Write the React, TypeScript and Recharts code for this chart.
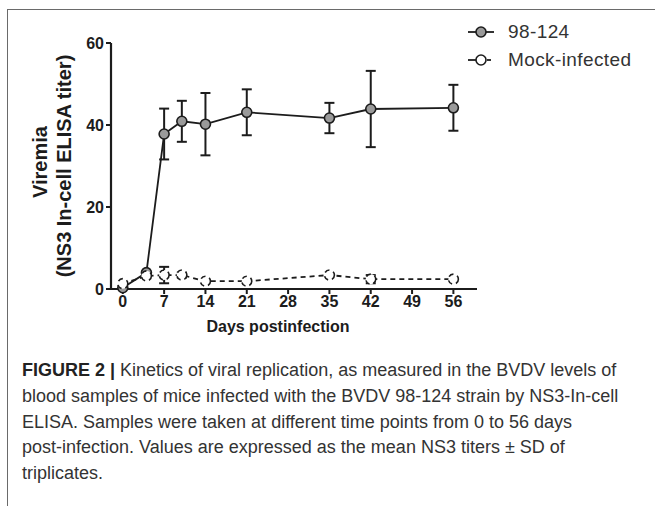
import React from "react";
import {
  ErrorBar,
  Label,
  Legend,
  Line,
  LineChart,
  XAxis,
  YAxis,
} from "recharts";

const days = [0, 4, 7, 10, 14, 21, 35, 42, 56];
const strainMean = [0.3, 4.0, 37.8, 40.9, 40.2, 43.1, 41.7, 43.9, 44.2];
const strainSd = [0, 0, 6.2, 5.0, 7.6, 5.6, 3.7, 9.3, 5.6];
const mockMean = [1.3, 3.2, 3.4, 3.4, 1.9, 1.9, 3.4, 2.4, 2.4];
const mockSd = [0, 0, 2.0, 0.6, 0, 0, 0, 1.0, 0];

const xTicks = [0, 7, 14, 21, 28, 35, 42, 49, 56];
const yTicks = [0, 20, 40, 60];
const seriesNames = ["98-124", "Mock-infected"];

const rows = days.map((day, i) => ({
  day,
  strain: strainMean[i],
  strainErr: strainSd[i],
  mock: mockMean[i],
  mockErr: mockSd[i],
}));

const INK = "#1c1c1c";
const SANS = "'Liberation Sans', Arial, sans-serif";
const tickStyle = {
  fontFamily: SANS,
  fontWeight: 700,
  fontSize: 16,
  fill: INK,
};

function LegendBox() {
  return (
    <div style={{ fontFamily: SANS, fontSize: 19, color: "#333" }}>
      {seriesNames.map((name, i) => (
        <div key={name} style={{ display: "flex", alignItems: "center", height: 28 }}>
          <svg width={34} height={16} style={{ marginRight: 8 }}>
            {i === 0 ? (
              <line x1={2} y1={8} x2={28} y2={8} stroke={INK} strokeWidth={1.8} />
            ) : (
              <>
                <line x1={2} y1={8} x2={10} y2={8} stroke={INK} strokeWidth={1.8} />
                <line x1={21} y1={8} x2={25} y2={8} stroke={INK} strokeWidth={1.8} />
              </>
            )}
            <circle
              cx={15}
              cy={8}
              r={5}
              fill={i === 0 ? "#9a9a9a" : "#fff"}
              stroke={INK}
              strokeWidth={1.6}
            />
          </svg>
          <span style={{ letterSpacing: 0.4 }}>{name}</span>
        </div>
      ))}
    </div>
  );
}

function YTitle(props: any) {
  const vb = props.viewBox ?? { x: 0, y: 43, width: 111, height: 246 };
  const cy = vb.y + vb.height / 2;
  const font = { fontFamily: SANS, fontWeight: 700, fontSize: 20, fill: INK };
  return (
    <g>
      <text x={40} y={cy - 4} transform={`rotate(-90 40 ${cy - 4})`} textAnchor="middle" dominantBaseline="central" {...font}>
        Viremia
      </text>
      <text x={64} y={cy} transform={`rotate(-90 64 ${cy})`} textAnchor="middle" dominantBaseline="central" {...font}>
        (NS3 In-cell ELISA titer)
      </text>
    </g>
  );
}

export default function App() {
  return (
    <div
      style={{
        position: "fixed",
        inset: 0,
        width: 655,
        height: 506,
        overflow: "hidden",
        background: "#fff",
      }}
    >
      <div
        style={{
          position: "absolute",
          left: 7,
          top: 9,
          width: 700,
          height: 600,
          borderLeft: "1.5px solid #6a6a6a",
          borderTop: "1.5px solid #6a6a6a",
        }}
      />
      <div style={{ position: "absolute", left: 0, top: 0 }}>
        <LineChart
          width={655}
          height={340}
          data={rows}
          margin={{ top: 43, right: 178, bottom: 21, left: 0 }}
        >
          <XAxis
            dataKey="day"
            type="number"
            domain={[-2, 60]}
            ticks={xTicks}
            height={30}
            tick={tickStyle}
            tickSize={5}
            tickLine={{ stroke: INK, strokeWidth: 2 }}
            axisLine={{ stroke: INK, strokeWidth: 2.2 }}
          >
            <Label
              value="Days postinfection"
              position="insideBottom"
              offset={-13}
              dx={-16}
              style={{ ...tickStyle, fontSize: 16 }}
            />
          </XAxis>
          <YAxis
            type="number"
            domain={[0, 60]}
            ticks={yTicks}
            width={111}
            tick={tickStyle}
            tickSize={5}
            tickLine={{ stroke: INK, strokeWidth: 2 }}
            axisLine={{ stroke: INK, strokeWidth: 2.2 }}
            label={<YTitle />}
          />
          <Legend
            layout="horizontal"
            verticalAlign="middle"
            align="center"
            wrapperStyle={{ left: 466, top: 18, width: 189, height: 60 }}
            content={() => <LegendBox />}
          />
          <Line
            dataKey="strain"
            name={seriesNames[0]}
            stroke={INK}
            strokeWidth={1.8}
            dot={{ r: 5, fill: "#9a9a9a", stroke: INK, strokeWidth: 1.6 }}
            isAnimationActive={false}
          >
            <ErrorBar dataKey="strainErr" direction="y" width={5} stroke={INK} strokeWidth={2} />
          </Line>
          <Line
            dataKey="mock"
            name={seriesNames[1]}
            stroke={INK}
            strokeWidth={1.8}
            strokeDasharray="5 4"
            dot={{ r: 5, fill: "#fff", stroke: INK, strokeWidth: 1.6 }}
            isAnimationActive={false}
          >
            <ErrorBar dataKey="mockErr" direction="y" width={5} stroke={INK} strokeWidth={2} />
          </Line>
        </LineChart>
      </div>
      <div
        style={{
          position: "absolute",
          left: 22,
          top: 358,
          fontFamily: SANS,
          fontSize: 18,
          lineHeight: "25.8px",
          color: "#333",
          whiteSpace: "nowrap",
        }}
      >
        <b style={{ color: "#222" }}>FIGURE 2 |</b> Kinetics of viral replication, as measured in the BVDV levels of
        <br />
        blood samples of mice infected with the BVDV 98-124 strain by NS3-In-cell
        <br />
        ELISA. Samples were taken at different time points from 0 to 56 days
        <br />
        post-infection. Values are expressed as the mean NS3 titers ± SD of
        <br />
        triplicates.
      </div>
    </div>
  );
}
